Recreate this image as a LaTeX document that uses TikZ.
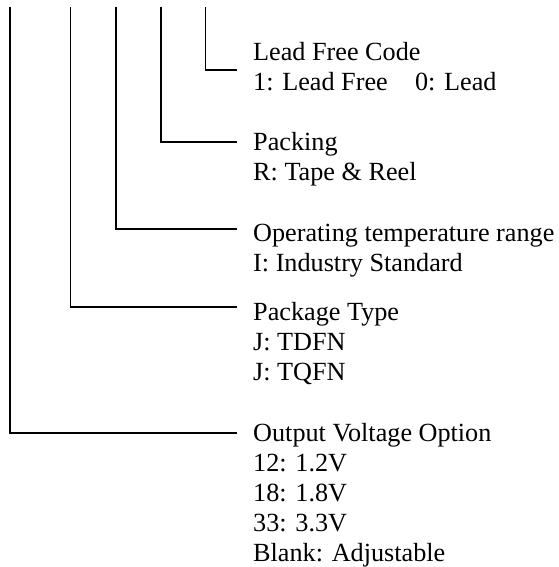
\documentclass[tikz,border=0pt]{standalone}
\usepackage{fontspec}
\setmainfont{Liberation Serif}
\begin{document}
\begin{tikzpicture}[x=1pt,y=-1pt]
\tikzset{
  lbl/.style={anchor=base west, inner sep=0pt, font=\fontsize{26.2pt}{30pt}\selectfont},
  wire/.style={line width=1.6pt, black}
}
\useasboundingbox (0,0) rectangle (558,567);
% top free ends of the vertical leads
\coordinate (t1) at (205.5,7);
\coordinate (t2) at (161,7);
\coordinate (t3) at (116,7);
\coordinate (t4) at (70.5,7);
\coordinate (t5) at (10,7);
% ends of the horizontal leads
\coordinate (e1) at (237,70);
\coordinate (e2) at (237,142);
\coordinate (e3) at (237,229);
\coordinate (e4) at (237,307);
\coordinate (e5) at (237,433);
\draw[wire] (t1) |- (e1);
\draw[wire] (t2) |- (e2);
\draw[wire] (t3) |- (e3);
\draw[wire] (t4) |- (e4);
\draw[wire] (t5) |- (e5);
% texts
\node[lbl] (lead1) at (253,61) {Lead Free Code};
\node[lbl] (lead2) at (253,91) {1: Lead Free\hspace{27.3pt}0: Lead};
\node[lbl] (pack1) at (253,150) {Packing};
\node[lbl] (pack2) at (253,180) {R: Tape \& Reel};
\node[lbl] (temp1) at (253,241) {Operating temperature range};
\node[lbl] (temp2) at (253,271) {I: Industry Standard};
\node[lbl] (type1) at (253,320) {Package Type};
\node[lbl] (type2) at (253,350) {J: TDFN};
\node[lbl] (type3) at (253,380) {J: TQFN};
\node[lbl] (volt1) at (253,441) {Output Voltage Option};
\node[lbl] (volt2) at (253,471) {12: 1.2V};
\node[lbl] (volt3) at (253,501) {18: 1.8V};
\node[lbl] (volt4) at (253,531) {33: 3.3V};
\node[lbl] (volt5) at (253,561) {Blank: Adjustable};
\end{tikzpicture}
\end{document}
